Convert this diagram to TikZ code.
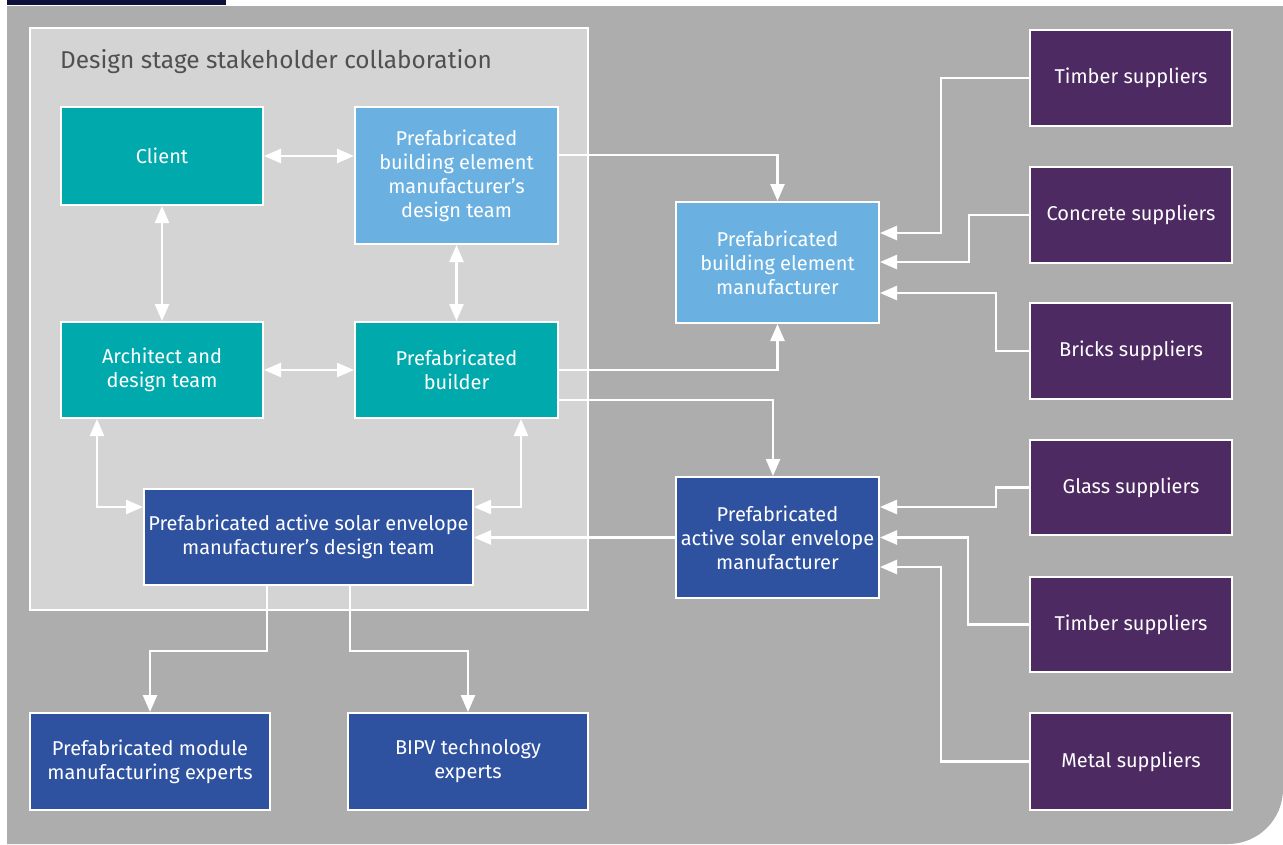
\documentclass[tikz,border=0pt]{standalone}
\usepackage{fontspec}
\setmainfont{Fira Sans}
\usetikzlibrary{arrows.meta}
\definecolor{cteal}{HTML}{00A9AC}
\definecolor{clight}{HTML}{6AB0E0}
\definecolor{cblue}{HTML}{2E52A0}
\definecolor{cpurple}{HTML}{4E2A63}
\definecolor{cbg}{HTML}{ADADAD}
\definecolor{ccollab}{HTML}{D4D4D4}
\definecolor{cnavy}{HTML}{10103C}
\definecolor{ctitle}{HTML}{505050}
\tikzset{
  box/.style={draw=white, line width=2pt, text=white, align=center, inner sep=0pt,
    font=\fontsize{20}{24}\selectfont},
  tealbox/.style={box, fill=cteal},
  lightbox/.style={box, fill=clight},
  bluebox/.style={box, fill=cblue},
  supbox/.style={box, fill=cpurple, minimum width=202pt},
  conn/.style={draw=white, line width=2.5pt, -{Triangle[width=14pt,length=17pt]}},
  biconn/.style={draw=white, line width=2.5pt, {Triangle[width=14pt,length=17pt]}-{Triangle[width=14pt,length=17pt]}},
}
\begin{document}
\begin{tikzpicture}[x=1pt,y=-1pt]
\useasboundingbox (0,0) rectangle (1283,844);
\fill[white] (0,0) rectangle (1283,844);
\fill[cnavy] (7,0) rectangle (226,5);
\fill[cbg] (7,6) -- (1283,6) [rounded corners=55pt] -- (1283,844) [sharp corners] -- (7,844) -- cycle;
\draw[white, line width=2pt, fill=ccollab] (30,28) rectangle (588,610);
\node[anchor=west, text=ctitle, font=\fontsize{24.4}{28}\selectfont, inner sep=0pt] (title) at (60,62) {Design stage stakeholder collaboration};

\node[tealbox, minimum width=202pt, minimum height=98pt] (client) at (162,156) {Client};
\node[lightbox, minimum width=203pt, minimum height=137pt] (pbed) at (456.5,175.5) {Prefabricated\\building element\\manufacturer’s\\design team};
\node[tealbox, minimum width=202pt, minimum height=96pt] (arch) at (162,370) {Architect and\\design team};
\node[tealbox, minimum width=203pt, minimum height=96pt] (build) at (456.5,370) {Prefabricated\\builder};
\node[bluebox, minimum width=329pt, minimum height=96pt] (sold) at (308.5,537) {Prefabricated active solar envelope\\manufacturer’s design team};
\node[lightbox, minimum width=203pt, minimum height=121pt] (pbem) at (777.5,262.5) {Prefabricated\\building element\\manufacturer};
\node[bluebox, minimum width=203pt, minimum height=121pt] (solm) at (777.5,537.5) {Prefabricated\\active solar envelope\\manufacturer};
\node[bluebox, minimum width=240pt, minimum height=97pt] (mod) at (150,761.5) {Prefabricated module\\manufacturing experts};
\node[bluebox, minimum width=240pt, minimum height=97pt] (bipv) at (468,761.5) {BIPV technology\\experts};

\node[supbox, minimum height=96pt] (t1) at (1131,78) {Timber suppliers};
\node[supbox, minimum height=96pt] (conc) at (1131,215) {Concrete suppliers};
\node[supbox, minimum height=96pt] (brick) at (1131,351) {Bricks suppliers};
\node[supbox, minimum height=95pt] (glass) at (1131,487.5) {Glass suppliers};
\node[supbox, minimum height=95pt] (t2) at (1131,624.5) {Timber suppliers};
\node[supbox, minimum height=97pt] (metal) at (1131,761.5) {Metal suppliers};

% collaboration links
\draw[biconn] (client.east) -- (client.east -| pbed.west);
\draw[biconn] (client.south) -- (arch.north);
\draw[biconn] (pbed.south) -- (build.north);
\draw[biconn] (arch.east) -- (build.west);
\draw[biconn] ([xshift=-65pt]arch.south) |- ([yshift=30pt]sold.west);
\draw[biconn] ([xshift=64.5pt]build.south) |- ([yshift=30pt]sold.east);
\draw[conn] (solm.west) -- (solm.west -| sold.east);

% to experts
\draw[conn] ([xshift=-41.5pt]sold.south) -- ++(0,65) -| (mod.north);
\draw[conn] ([xshift=41.5pt]sold.south) -- ++(0,65) -| (bipv.north);

% to manufacturers
\draw[conn] ([yshift=20.5pt]pbed.east) -| (pbem.north);
\draw[conn] (build.east) -| (pbem.south);
\draw[conn] ([yshift=-30pt]build.east) -| ([xshift=-4.5pt]solm.north);

% suppliers
\draw[conn] (t1.west) -- ++(-88,0) |- ([yshift=29.5pt]pbem.east);
\draw[conn] (conc.west) -- ++(-60,0) |- ([yshift=0.5pt]pbem.east);
\draw[conn] (brick.west) -- ++(-33,0) |- ([yshift=-30.5pt]pbem.east);
\draw[conn] (glass.west) -- ++(-33,0) |- ([yshift=30.5pt]solm.east);
\draw[conn] (t2.west) -- ++(-61,0) |- (solm.east);
\draw[conn] (metal.west) -- ++(-88,0) |- ([yshift=-29.5pt]solm.east);
\end{tikzpicture}
\end{document}
